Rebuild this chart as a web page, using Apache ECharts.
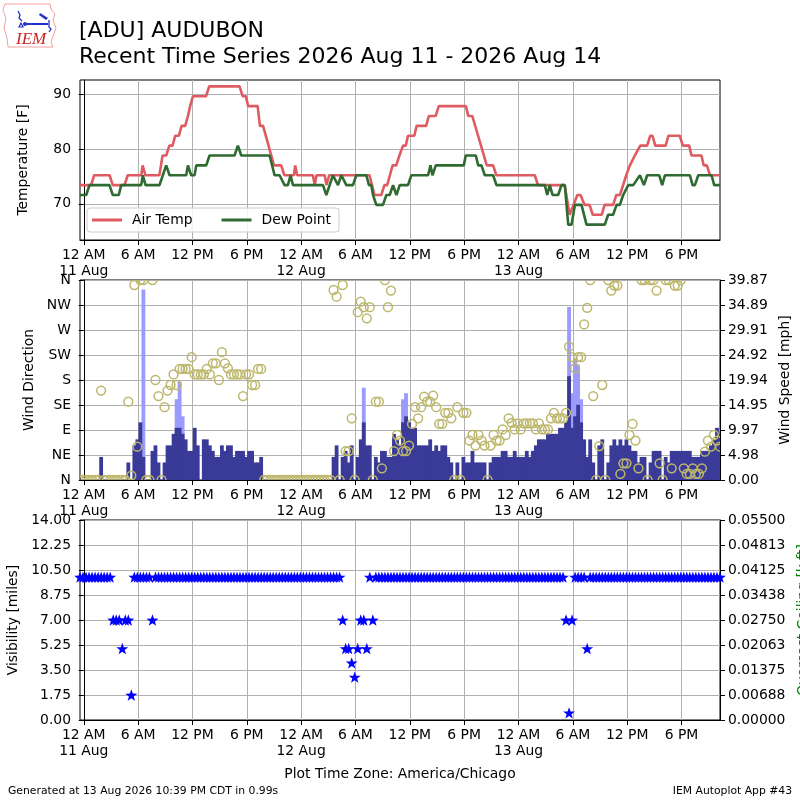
<!DOCTYPE html>
<html><head><meta charset="utf-8">
<script src="https://cdn.jsdelivr.net/npm/echarts@6.0.0/dist/echarts.min.js"></script>
<style>html,body{margin:0;padding:0;background:#fff}#c{width:800px;height:800px}</style>
</head><body><div id="c"></div>
<script>
const FONT = 'DejaVu Sans';
// time = hours since 11 Aug 2026 00:00 (America/Chicago)
// observations every 20 minutes, first at 10 Aug 23:35
const OBS_START_H = -25 / 60;
const OBS_STEP_H = 20 / 60;
const X_MIN = -25 / 60, X_MAX = 70.25;
const xTickHours = [0, 6, 12, 18, 24, 30, 36, 42, 48, 54, 60, 66];
const hourNames = {0: '12 AM', 6: '6 AM', 12: '12 PM', 18: '6 PM'};
const dayNames = ['11 Aug', '12 Aug', '13 Aug'];

const tempTicks = [70, 80, 90];
const dirNames = ['N', 'NE', 'E', 'SE', 'S', 'SW', 'W', 'NW', 'N'];

// [hour, degF] where the traces bend
const airTemp = [[-0.42,73.4],[0.8,73.4],[1.15,75.2],[2.85,75.2],[3.2,73.4],[4.5,73.4],[4.85,75.2],[6.35,75.2],[6.5,77],[6.8,75.2],[8.35,75.2],[8.7,78.8],[9.1,78.8],[9.45,80.6],[9.8,80.6],[10.1,82.4],[10.5,82.4],[10.8,84.2],[11.2,84.2],[11.5,86],[11.75,87.8],[12.05,89.6],[13.5,89.6],[13.85,91.4],[17.2,91.4],[17.55,89.6],[17.9,89.6],[18.15,87.8],[19.2,87.8],[19.45,84.2],[19.8,84.2],[21.0,77],[21.8,77],[22.15,75.2],[23.2,75.2],[23.35,77],[23.55,75.2],[25.3,75.2],[25.5,73.4],[25.7,75.2],[26.6,75.2],[26.8,73.4],[27.1,75.2],[31.55,75.2],[32.1,71.6],[32.85,71.6],[33.2,73.4],[33.5,73.4],[33.8,75.2],[34.1,77],[34.5,77],[34.85,78.8],[35.05,78.8],[35.25,80.6],[35.55,80.6],[35.8,82.4],[36.5,82.4],[36.75,84.2],[37.8,84.2],[38.1,86],[38.85,86],[39.2,87.8],[42.2,87.8],[42.45,86],[42.9,86],[44.5,77],[45.2,77],[45.55,75.2],[49.8,75.2],[50.15,73.4],[53.1,73.4],[53.65,68],[54.5,71.6],[54.85,71.6],[55.3,69.8],[55.85,69.8],[56.2,68],[57.2,68],[57.5,69.8],[58.45,69.8],[58.8,71.6],[59.2,71.6],[59.55,73.4],[59.9,75.2],[60.3,77],[60.85,78.8],[61.45,80.6],[62.2,80.6],[62.55,82.4],[62.8,82.4],[63.1,80.6],[64.25,80.6],[64.55,82.4],[65.8,82.4],[66.15,80.6],[66.85,80.6],[67.1,78.8],[68.2,78.8],[68.45,77],[68.8,77],[69.15,75.2],[70.25,75.2]];
const dewPoint = [[-0.42,71.6],[0.27,71.6],[0.63,73.4],[2.84,73.4],[3.2,71.6],[3.87,71.6],[4.13,73.4],[6.34,73.4],[6.52,75.2],[6.82,73.4],[8.36,73.4],[8.73,75.2],[9.1,77],[9.47,75.2],[11.31,75.2],[11.5,77],[11.86,75.2],[12.23,75.2],[12.42,77],[13.52,77],[13.89,78.8],[16.65,78.8],[17.02,80.6],[17.39,78.8],[20.52,78.8],[21.07,75.2],[21.62,75.2],[22.17,73.4],[22.54,73.4],[22.83,75.2],[23.1,73.4],[26.41,73.4],[26.78,71.6],[27.15,73.4],[27.51,75.2],[28.07,73.4],[28.44,75.2],[28.99,73.4],[29.72,73.4],[30.09,75.2],[31.2,75.2],[31.49,73.4],[31.75,73.4],[31.94,71.6],[32.3,69.8],[33.04,69.8],[33.41,71.6],[33.78,71.6],[34.15,73.4],[34.52,71.6],[34.89,73.4],[35.8,73.4],[36.17,75.2],[38.02,75.2],[38.28,77],[38.5,75.2],[38.87,77],[41.96,77],[42.18,78.8],[43.29,78.8],[43.55,77],[43.91,77],[44.28,75.2],[45.2,75.2],[45.57,73.4],[50.91,73.4],[51.17,71.6],[51.46,73.4],[51.76,71.6],[52.38,71.6],[52.75,73.4],[53.12,73.4],[53.49,66.2],[53.86,66.2],[54.23,69.8],[54.96,69.8],[55.51,66.2],[57.53,66.2],[57.9,68],[58.45,68],[58.83,69.8],[59.19,69.8],[59.56,71.6],[60.12,73.4],[60.67,73.4],[61.41,75.2],[61.85,73.4],[62.21,75.2],[63.54,75.2],[63.87,73.4],[64.17,75.2],[66.93,75.2],[67.22,73.4],[67.48,73.4],[67.85,75.2],[69.32,75.2],[69.61,73.4],[70.25,73.4]];

// one value per 20-minute observation (213 obs)
const windSpeedMph = [
0,0,0,0,0,0,0,4.6,0,0,
0,0,0,0,0,0,3.5,0,6.9,8.1,
11.5,4.6,0,0,5.8,6.9,3.5,0,3.5,6.9,
6.9,9.2,10.4,10.4,9.2,8.1,5.8,5.8,10.4,6.9,
0,8.1,8.1,6.9,5.8,4.6,4.6,6.9,5.8,6.9,
6.9,4.6,5.8,5.8,5.8,4.6,5.8,5.8,3.5,3.5,
4.6,0,0,0,0,0,0,0,0,0,
0,0,0,0,0,0,0,0,0,0,
0,0,0,0,4.6,6.9,0,4.6,5.8,3.5,
6.9,0,4.6,8.1,11.5,6.9,6.9,0,4.6,3.5,
5.8,5.8,4.6,4.6,9.2,8.1,6.9,11.5,12.7,11.5,
10.4,10.4,6.9,6.9,6.9,6.9,8.1,5.8,6.9,5.8,
6.9,6.9,4.6,3.5,0,3.5,0,4.6,3.5,3.5,
5.8,3.5,3.5,3.5,3.5,0,3.5,4.6,4.6,4.6,
5.8,5.8,4.6,4.6,5.8,4.6,4.6,4.6,5.8,4.6,
5.8,6.9,8.1,8.1,8.1,9.2,9.2,9.2,9.2,10.4,
10.4,11.5,20.7,10.4,12.7,15.0,11.5,8.1,4.6,8.1,
3.5,0,6.9,8.1,0,3.5,6.9,8.1,6.9,8.1,
6.9,8.1,6.9,5.8,5.8,3.5,4.6,4.6,0,3.5,
5.8,5.8,5.8,0,4.6,3.5,5.8,5.8,5.8,5.8,
5.8,5.8,5.8,4.6,4.6,4.6,5.8,5.8,5.8,6.9,
8.1,10.4,9.2];
const windDirDeg = [
0,0,0,0,0,0,0,161,0,0,
0,0,0,0,0,0,141,8,351,60,
360,360,0,0,360,180,151,0,131,161,
171,190,171,200,200,200,200,221,190,190,
190,190,200,190,210,210,180,230,210,201,
190,190,190,190,151,190,190,171,171,200,
200,0,0,0,0,0,0,0,0,0,
0,0,0,0,0,0,0,0,0,0,
0,0,0,0,342,330,0,351,52,52,
111,0,302,321,311,291,311,0,141,141,
21,360,311,341,52,81,71,52,52,62,
101,131,111,131,150,141,141,152,131,101,
101,121,121,111,0,131,0,121,121,71,
81,62,81,71,62,0,62,81,71,71,
91,81,111,103,91,102,91,102,102,102,
102,91,102,91,91,91,111,121,111,111,
111,121,240,221,201,221,221,280,310,360,
151,0,61,171,0,360,341,350,350,11,
30,30,81,101,71,21,360,360,0,360,
360,341,30,0,360,360,21,350,350,360,
21,11,11,21,11,11,21,51,71,60,
81,71,60];
const gustObs = [21, 32, 33, 34, 94, 107, 108, 162, 163, 164, 165, 166];
const gustMph = [38.0, 16.1, 19.6, 12.7, 18.4, 16.1, 17.3, 34.5, 17.3, 24.2, 23.0, 16.1];
const visibilityMiles = [
10,10,10,10,10,10,10,10,10,10,
10,7,7,7,5,7,7,1.75,10,10,
10,10,10,10,7,10,10,10,10,10,
10,10,10,10,10,10,10,10,10,10,
10,10,10,10,10,10,10,10,10,10,
10,10,10,10,10,10,10,10,10,10,
10,10,10,10,10,10,10,10,10,10,
10,10,10,10,10,10,10,10,10,10,
10,10,10,10,10,10,10,7,5,5,
4,3,5,7,7,5,10,7,10,10,
10,10,10,10,10,10,10,10,10,10,
10,10,10,10,10,10,10,10,10,10,
10,10,10,10,10,10,10,10,10,10,
10,10,10,10,10,10,10,10,10,10,
10,10,10,10,10,10,10,10,10,10,
10,10,10,10,10,10,10,10,10,10,
10,7,0.5,7,10,10,10,10,5,10,
10,10,10,10,10,10,10,10,10,10,
10,10,10,10,10,10,10,10,10,10,
10,10,10,10,10,10,10,10,10,10,
10,10,10,10,10,10,10,10,10,10,
10,10,10];

const obsTime = k => OBS_START_H + k * OBS_STEP_H;

function fmtX(h) {
  const hr = ((h % 24) + 24) % 24;
  const d = Math.floor(h / 24);
  return hr === 0 ? '12 AM\n' + dayNames[d] : hourNames[hr];
}
const labelStyle = {color: '#000', fontFamily: FONT, fontSize: 13.9};
const gridLine = {show: true, lineStyle: {color: '#b0b0b0', width: 1}};

function makeX(gi) {
  return {
    type: 'value', gridIndex: gi, min: X_MIN, max: X_MAX,
    axisLine: {show: true, onZero: false, lineStyle: {color: '#000', width: 1}},
    axisTick: {show: true, customValues: xTickHours, length: 5, lineStyle: {color: '#000'}},
    axisLabel: Object.assign({customValues: xTickHours, formatter: fmtX, lineHeight: 16, margin: 7}, labelStyle),
    splitLine: gridLine
  };
}
function nameStyle(color) {
  return {color: color || '#000', fontFamily: FONT, fontSize: 13.9};
}
// bar of one observation period, drawn through the axes' scales
// (a hair of overlap hides anti-aliasing seams between neighbouring bars)
function barItem(color) {
  return function (params, api) {
    const t = api.value(0), v = api.value(1);
    const a = api.coord([t - OBS_STEP_H / 2, v]);
    const b = api.coord([t + OBS_STEP_H / 2, 0]);
    return {type: 'rect', shape: {x: a[0] - 0.4, y: a[1], width: b[0] - a[0] + 0.8, height: b[1] - a[1]},
            style: {fill: color}};
  };
}

const STAR = 'path://M0,-10 L2.35,-3.24 L9.51,-3.09 L3.8,1.24 L5.88,8.09 L0,4 L-5.88,8.09 L-3.8,1.24 L-9.51,-3.09 L-2.35,-3.24 Z';

const option = {
  animation: false,
  backgroundColor: '#fff',
  textStyle: {fontFamily: FONT},
  title: [
    {text: '[ADU] AUDUBON', left: 79, top: 20, padding: 0, textStyle: {fontSize: 22, fontWeight: 'normal', fontFamily: FONT, color: '#000'}},
    {text: 'Recent Time Series 2026 Aug 11 - 2026 Aug 14', left: 79, top: 46, padding: 0, textStyle: {fontSize: 22, fontWeight: 'normal', fontFamily: FONT, color: '#000'}},
    {text: 'Plot Time Zone: America/Chicago', left: 'center', top: 767, padding: 0, textStyle: {fontSize: 13.9, fontWeight: 'normal', fontFamily: FONT, color: '#000'}},
    {text: 'Generated at 13 Aug 2026 10:39 PM CDT in 0.99s', left: 8, top: 786, padding: 0, textStyle: {fontSize: 10.8, fontWeight: 'normal', fontFamily: FONT, color: '#000'}},
    {text: 'IEM Autoplot App #43', right: 8, top: 786, padding: 0, textStyle: {fontSize: 10.8, fontWeight: 'normal', fontFamily: FONT, color: '#000'}}
  ],
  graphic: [
    {type: 'polygon', shape: {points: [[5,4],[50,4],[51,9],[55,14],[53,20],[56,28],[53,36],[51,42],[53,47],[8,47],[7,38],[4,28],[6,18],[3,10]]}, style: {fill: 'none', stroke: '#f2a0a0', lineWidth: 1}},
    {type: 'polyline', shape: {points: [[18,11],[20,15],[19,18],[22,21]]}, style: {fill: 'none', stroke: '#2233cc', lineWidth: 1.3}},
    {type: 'polygon', shape: {points: [[21,23],[19,27],[23,27]]}, style: {fill: 'none', stroke: '#2233cc', lineWidth: 1.2}},
    {type: 'line', shape: {x1: 25, y1: 24, x2: 48, y2: 24}, style: {stroke: '#2233cc', lineWidth: 2}},
    {type: 'circle', shape: {cx: 25, cy: 24, r: 2}, style: {fill: '#2233cc'}},
    {type: 'polygon', shape: {points: [[40,13],[48,18],[46,20],[39,15]]}, style: {fill: '#2233cc'}},
    {type: 'polyline', shape: {points: [[49,20],[49,27],[51,29],[49,32]]}, style: {fill: 'none', stroke: '#2233cc', lineWidth: 1.3}},
    {type: 'text', left: 16, top: 31, style: {text: 'IEM', fill: '#cc2222', font: 'italic 17px "Liberation Serif", "DejaVu Serif", serif'}}
  ],
  grid: [
    {left: 80, top: 80, width: 640, height: 160, show: true, borderColor: '#000', borderWidth: 1, backgroundColor: 'transparent', outerBoundsMode: 'none'},
    {left: 80, top: 280, width: 640, height: 200, show: true, borderColor: '#000', borderWidth: 1, backgroundColor: 'transparent', outerBoundsMode: 'none'},
    {left: 80, top: 520, width: 640, height: 200, show: true, borderColor: '#000', borderWidth: 1, backgroundColor: 'transparent', outerBoundsMode: 'none'}
  ],
  legend: {
    data: ['Air Temp', 'Dew Point'],
    left: 87, top: 208, orient: 'horizontal',
    padding: [5, 8, 5, 5], itemGap: 29, itemWidth: 30, itemHeight: 3, icon: 'rect',
    backgroundColor: 'rgba(255,255,255,0.85)', borderColor: '#cccccc', borderWidth: 1, borderRadius: 3,
    textStyle: {color: '#000', fontFamily: FONT, fontSize: 13.9, padding: [0, 0, 0, 5]},
    selectedMode: false
  },
  xAxis: [makeX(0), makeX(1), makeX(2)],
  yAxis: [
    {type: 'value', gridIndex: 0, min: 63.4, max: 92.56, position: 'left',
     name: 'Temperature [F]', nameLocation: 'middle', nameGap: 50, nameTextStyle: nameStyle(),
     axisLine: {show: true, lineStyle: {color: '#000'}},
     axisTick: {show: true, customValues: tempTicks, length: 5, lineStyle: {color: '#000'}},
     axisLabel: Object.assign({customValues: tempTicks, margin: 9}, labelStyle),
     splitLine: gridLine},
    {type: 'value', gridIndex: 1, min: 0, max: 360, interval: 45, position: 'left',
     name: 'Wind Direction', nameLocation: 'middle', nameGap: 39, nameTextStyle: nameStyle(),
     axisLine: {show: true, lineStyle: {color: '#000'}},
     axisTick: {show: true, length: 5, lineStyle: {color: '#000'}},
     axisLabel: Object.assign({margin: 9, formatter: v => dirNames[Math.round(v / 45)]}, labelStyle),
     splitLine: gridLine},
    {type: 'value', gridIndex: 1, min: 0, max: 39.874, interval: 4.98425, position: 'right',
     name: 'Wind Speed [mph]', nameLocation: 'middle', nameGap: 57, nameTextStyle: nameStyle(),
     axisLine: {show: true, lineStyle: {color: '#000'}},
     axisTick: {show: true, length: 5, lineStyle: {color: '#000'}},
     axisLabel: Object.assign({margin: 8, formatter: v => v.toFixed(2)}, labelStyle),
     splitLine: {show: false}},
    {type: 'value', gridIndex: 2, min: 0, max: 14, interval: 1.75, position: 'left',
     name: 'Visibility [miles]', nameLocation: 'middle', nameGap: 54, nameTextStyle: nameStyle(),
     axisLine: {show: true, lineStyle: {color: '#000'}},
     axisTick: {show: true, length: 5, lineStyle: {color: '#000'}},
     axisLabel: Object.assign({margin: 9, formatter: v => v.toFixed(2)}, labelStyle),
     splitLine: gridLine},
    {type: 'value', gridIndex: 2, min: 0, max: 0.055, interval: 0.006875, position: 'right',
     name: 'Overcast Ceiling [k ft]', nameLocation: 'middle', nameGap: 69, nameTextStyle: nameStyle('#008000'),
     axisLine: {show: true, lineStyle: {color: '#000'}},
     axisTick: {show: true, length: 5, lineStyle: {color: '#000'}},
     axisLabel: Object.assign({margin: 8, formatter: v => (Math.round(v * 1e5 + 1e-6) / 1e5).toFixed(5)}, labelStyle),
     splitLine: {show: false}}
  ],
  series: [
    {name: 'Air Temp', type: 'line', xAxisIndex: 0, yAxisIndex: 0, data: airTemp,
     symbol: 'none', showSymbol: false, lineStyle: {color: '#df5b62', width: 2.6}, itemStyle: {color: '#df5b62'}, z: 3},
    {name: 'Dew Point', type: 'line', xAxisIndex: 0, yAxisIndex: 0, data: dewPoint,
     symbol: 'none', showSymbol: false, lineStyle: {color: '#2f6a30', width: 2.6}, itemStyle: {color: '#2f6a30'}, z: 3},
    {name: 'Gust', type: 'custom', xAxisIndex: 1, yAxisIndex: 2, clip: true, z: 2,
     data: gustObs.map((k, i) => [obsTime(k), gustMph[i]]),
     encode: {x: 0, y: 1}, renderItem: barItem('#9a9aff')},
    {name: 'Wind Speed', type: 'custom', xAxisIndex: 1, yAxisIndex: 2, clip: true, z: 3,
     data: windSpeedMph.map((v, k) => [obsTime(k), v]),
     encode: {x: 0, y: 1}, renderItem: barItem('#3a3a98')},
    {name: 'Wind Dir', type: 'custom', xAxisIndex: 1, yAxisIndex: 1, clip: true, z: 4,
     data: windDirDeg.map((d, k) => [obsTime(k), d]),
     encode: {x: 0, y: 1},
     renderItem: function (params, api) {
       const p = api.coord([api.value(0), api.value(1)]);
       return {type: 'circle', shape: {cx: p[0], cy: p[1], r: 4.4},
               style: {fill: 'none', stroke: '#bdb76b', lineWidth: 1.5}};
     }},
    {name: 'Visibility', type: 'scatter', xAxisIndex: 2, yAxisIndex: 3,
     data: visibilityMiles.map((v, k) => [obsTime(k), v]),
     symbol: STAR, symbolSize: 12, symbolKeepAspect: true, itemStyle: {color: '#0000ff', opacity: 1}, z: 4}
  ]
};
const chart = echarts.init(document.getElementById('c'), null, {renderer: 'canvas', width: 800, height: 800});
chart.setOption(option);
</script>
</body></html>
